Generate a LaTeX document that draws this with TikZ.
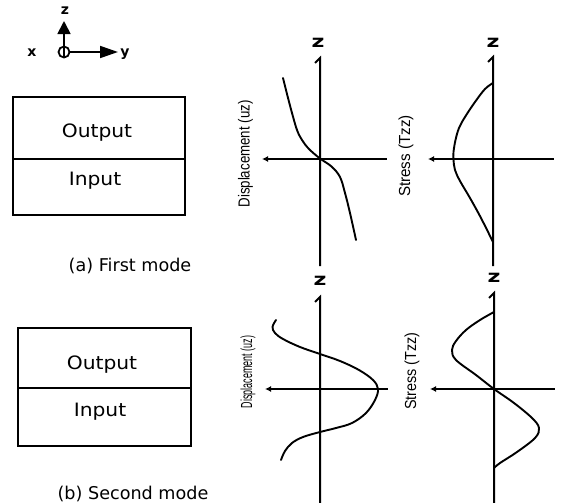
\documentclass[tikz,border=0pt]{standalone}
\usepackage{fontspec}
\usetikzlibrary{arrows.meta}
\newfontfamily\capfont{DejaVu Sans}
\newfontfamily\cellfont[FakeStretch=1.1]{DejaVu Sans}
\newfontfamily\zfont[FakeStretch=1.3]{DejaVu Sans}
\newfontfamily\dispfontA[FakeStretch=0.83]{Liberation Sans}
\newfontfamily\dispfontB[FakeStretch=0.56]{Liberation Sans}
\newfontfamily\stressfontA[FakeStretch=0.95]{Liberation Sans}
\newfontfamily\stressfontB[FakeStretch=0.9]{Liberation Sans}

\begin{document}
\begin{tikzpicture}[x=0.5pt,y=-0.5pt,
  layerbox/.style={draw, line width=1pt},
  celltext/.style={inner sep=0pt, font=\cellfont\fontsize{9.2}{10}\selectfont},
  captiontext/.style={inner sep=0pt, font=\capfont\fontsize{8.8}{10}\selectfont},
  icolabel/.style={inner sep=0pt, font=\capfont\bfseries\fontsize{7}{8}\selectfont},
  zlabel/.style={inner sep=0pt, font=\zfont\bfseries\fontsize{8.5}{9}\selectfont},
  sidelabel/.style={inner sep=0pt, rotate=90},
  icoarrow/.style={line width=0.9pt},
  axisline/.style={line width=1pt},
  modecurve/.style={line width=0.95pt, line join=round, line cap=round},
  axishead/.style={{Latex[length=3pt,width=3pt]}-}
]
\useasboundingbox (0,0) rectangle (562,503);

% ---- coordinate triad ----
\coordinate (o) at (64,52);
\coordinate (ztip) at (64,21);
\coordinate (ytip) at (118,52);
\draw[icoarrow] (o) circle (5.5);
\draw[icoarrow, -{Triangle[length=6.5pt,width=6.5pt]}] ([yshift=-2.75pt]o) -- (ztip);
\draw[icoarrow, -{Triangle[length=9pt,width=6pt]}] ([xshift=2.75pt]o) -- (ytip);
\node[icolabel] (zl) at (65,11) {z};
\node[icolabel] (xl) at (32,53) {x};
\node[icolabel] (yl) at (125,54) {y};

% ---- layer stacks ----
\draw[layerbox] (13,97) rectangle (185,215);
\draw[layerbox] (13,159) -- (185,159);
\node[celltext] (outA) at (97,133) {Output};
\node[celltext] (inA) at (95,181) {Input};
\node[captiontext] (capA) at (130,266) {(a) First mode};

\draw[layerbox] (18,328) rectangle (191,446);
\draw[layerbox] (18,388) -- (191,388);
\node[celltext] (outB) at (102,365) {Output};
\node[celltext] (inB) at (100,412) {Input};
\node[captiontext] (capB) at (133,494) {(b) Second mode};

% ---- first mode: displacement ----
\coordinate (dA0) at (320,159);
\coordinate (dAtop) at (320,58);
\coordinate (dAbot) at (320,266);
\coordinate (dAl) at (262,159);
\coordinate (dAr) at (387,159);
\draw[axisline] ([xshift=-2.5pt,yshift=-2.5pt]dAtop) -- (dAtop) -- (dAbot);
\draw[axisline, axishead] (dAl) -- (dAr);
\node[zlabel] (zA1) at (318,43) {z};
\node[sidelabel, font=\dispfontA\fontsize{8}{9}\selectfont] (dispA) at (245.5,154) {Displacement (uz)};
\draw[modecurve] plot[smooth, tension=0.6] coordinates {
  (283,78) (287,94) (292,113) (297,130) (302,140) (309,149) (320,158.5)
  (331.5,166.5) (340,177) (345,193) (350,213) (356,240)};

% ---- first mode: stress ----
\coordinate (sA0) at (493,159);
\coordinate (sAtop) at (493,57);
\coordinate (sAbot) at (493,266);
\coordinate (sAl) at (428,159);
\coordinate (sAr) at (554,159);
\draw[axisline] ([xshift=-2.5pt,yshift=-2.5pt]sAtop) -- (sAtop) -- (sAbot);
\draw[axisline, axishead] (sAl) -- (sAr);
\node[zlabel] (zA2) at (493,43) {z};
\node[sidelabel, font=\stressfontA\fontsize{8}{9}\selectfont] (stressA) at (406,156) {Stress (Tzz)};
\draw[modecurve] plot[smooth, tension=0.6] coordinates {
  (493,83) (485,89) (475,102) (465,117) (459,128) (455.5,140) (453.5,152)
  (453.5,160) (455,170) (460,181) (470,198) (481,218) (493,242)};

% ---- second mode: displacement ----
\coordinate (dB0) at (320,389);
\coordinate (dBtop) at (320,297);
\coordinate (dBbot) at (320,503);
\coordinate (dBl) at (265,389);
\coordinate (dBr) at (388,389);
\draw[axisline] ([xshift=-2.5pt,yshift=-2.5pt]dBtop) -- (dBtop) -- (dBbot);
\draw[axisline, axishead] (dBl) -- (dBr);
\node[zlabel] (zB1) at (320,281) {z};
\node[sidelabel, font=\dispfontB\fontsize{8}{9}\selectfont] (dispB) at (248,372) {Displacement (uz)};
\draw[modecurve] plot[smooth, tension=0.6] coordinates {
  (276,320) (272.5,327) (275,333) (283,339) (300,347) (320,354) (340,361)
  (359,370) (373,380) (378,389) (375,400) (366,413) (352,423) (336,428)
  (320,432) (303,437) (292,443) (285,451) (281,460)};

% ---- second mode: stress ----
\coordinate (sB0) at (494,389);
\coordinate (sBtop) at (494,293);
\coordinate (sBbot) at (494,503);
\coordinate (sBl) at (430,389);
\coordinate (sBr) at (555,389);
\draw[axisline] ([xshift=-2.5pt,yshift=-2.5pt]sBtop) -- (sBtop) -- (sBbot);
\draw[axisline, axishead] (sBl) -- (sBr);
\node[zlabel] (zB2) at (494,278) {z};
\node[sidelabel, font=\stressfontB\fontsize{8}{9}\selectfont] (stressB) at (412,371) {Stress (Tzz)};
\draw[modecurve] plot[smooth, tension=0.6] coordinates {
  (494,312) (480,320) (466,330) (456,341) (452,350) (456,360) (476,375)
  (494,389) (514,403) (532,418) (539,428) (535,438) (517,452) (500,463) (494,468)};
\end{tikzpicture}
\end{document}
